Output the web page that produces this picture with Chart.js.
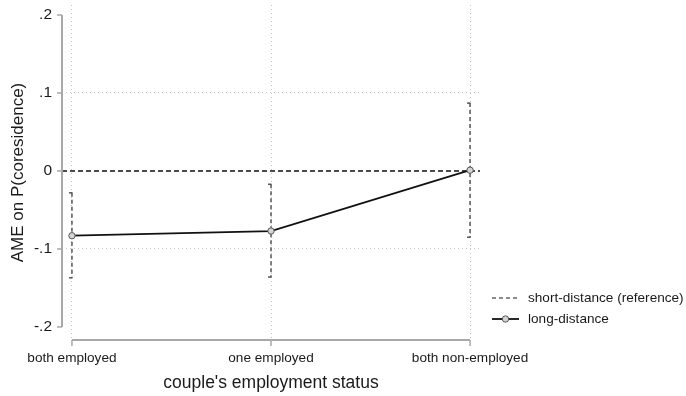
<!DOCTYPE html>
<html><head><meta charset="utf-8">
<script src="https://cdn.jsdelivr.net/npm/chart.js@4.4.1/dist/chart.umd.min.js"></script>
<style>html,body{margin:0;padding:0;background:#fff}#wrap{width:686px;height:396px}</style>
</head><body><div id="wrap"><canvas id="c" width="686" height="396"></canvas></div>
<script>
const categories = ['both employed', 'one employed', 'both non-employed'];
const longDistance = [-0.083, -0.077, 0.001];
const ciLow = [-0.137, -0.136, -0.085];
const ciHigh = [-0.028, -0.017, 0.087];
const referenceValue = 0;
const yTicks = [-0.2, -0.1, 0, 0.1, 0.2];
const seriesNames = ['short-distance (reference)', 'long-distance'];

const FONT = 'Liberation Sans, Arial, sans-serif';
const TXT = '#1a1a1a';

const fmt = v => {
  if (Math.abs(v) < 1e-9) return '0';
  const s = String(Math.round(v * 10) / 10);
  return s.replace('0.', '.');
};

const stataPlugin = {
  id: 'stata',
  beforeDatasetsDraw(chart) {
    const {ctx, chartArea: a, scales: {x, y}} = chart;
    ctx.save();
    const y0 = y.getPixelForValue(referenceValue);
    ctx.strokeStyle = '#111'; ctx.lineWidth = 1.3; ctx.setLineDash([5, 3]);
    ctx.beginPath(); ctx.moveTo(a.left, y0); ctx.lineTo(a.right, y0); ctx.stroke();
    ctx.strokeStyle = '#555'; ctx.lineWidth = 1.5; ctx.setLineDash([4, 3]);
    categories.forEach((c, i) => {
      const px = x.getPixelForValue(i);
      const t = y.getPixelForValue(ciHigh[i]), b = y.getPixelForValue(ciLow[i]);
      ctx.beginPath(); ctx.moveTo(px, t); ctx.lineTo(px, b); ctx.stroke();
    });
    ctx.setLineDash([]);
    categories.forEach((c, i) => {
      const px = x.getPixelForValue(i);
      const t = y.getPixelForValue(ciHigh[i]), b = y.getPixelForValue(ciLow[i]);
      ctx.beginPath(); ctx.moveTo(px - 3, t); ctx.lineTo(px + 0.5, t); ctx.stroke();
      ctx.beginPath(); ctx.moveTo(px - 3, b); ctx.lineTo(px + 0.5, b); ctx.stroke();
    });
    ctx.restore();
  },
  afterDraw(chart) {
    const {ctx, chartArea: a, scales: {x, y}} = chart;
    ctx.save();
    ctx.strokeStyle = '#a8a8a8'; ctx.lineWidth = 2; ctx.setLineDash([]);
    const yt = y.getPixelForValue(yTicks[yTicks.length - 1]);
    const yb = y.getPixelForValue(yTicks[0]);
    ctx.beginPath(); ctx.moveTo(a.left, yt); ctx.lineTo(a.left, yb); ctx.stroke();
    ctx.lineWidth = 1.5;
    yTicks.forEach(v => {
      const py = y.getPixelForValue(v);
      ctx.beginPath(); ctx.moveTo(a.left - 5, py); ctx.lineTo(a.left, py); ctx.stroke();
    });
    ctx.lineWidth = 2;
    const xl = x.getPixelForValue(0), xr = x.getPixelForValue(categories.length - 1);
    ctx.beginPath(); ctx.moveTo(xl, a.bottom); ctx.lineTo(xr, a.bottom); ctx.stroke();
    ctx.lineWidth = 1.5;
    categories.forEach((c, i) => {
      const px = x.getPixelForValue(i);
      ctx.beginPath(); ctx.moveTo(px, a.bottom); ctx.lineTo(px, a.bottom + 6); ctx.stroke();
    });
    const lx = 492, lx2 = 519, tx = 528, r1 = 298, r2 = 319;
    ctx.strokeStyle = '#666'; ctx.lineWidth = 1.5; ctx.setLineDash([4, 3]);
    ctx.beginPath(); ctx.moveTo(lx, r1); ctx.lineTo(lx2, r1); ctx.stroke();
    ctx.setLineDash([]);
    ctx.strokeStyle = '#111'; ctx.lineWidth = 1.8;
    ctx.beginPath(); ctx.moveTo(lx, r2); ctx.lineTo(lx2, r2); ctx.stroke();
    ctx.fillStyle = '#d4d4d4'; ctx.strokeStyle = '#555'; ctx.lineWidth = 1;
    ctx.beginPath(); ctx.arc((lx + lx2) / 2, r2, 3.2, 0, Math.PI * 2); ctx.fill(); ctx.stroke();
    ctx.fillStyle = TXT; ctx.font = '13.6px ' + FONT; ctx.textBaseline = 'middle'; ctx.textAlign = 'left';
    ctx.fillText(seriesNames[0], tx, r1);
    ctx.fillText(seriesNames[1], tx, r2);
    ctx.restore();
  }
};

new Chart(document.getElementById('c'), {
  type: 'line',
  data: {
    datasets: [{
      label: seriesNames[1],
      data: longDistance.map((v, i) => ({x: i, y: v})),
      borderColor: '#111',
      borderWidth: 1.8,
      pointRadius: 3.2,
      pointBorderWidth: 1,
      pointBorderColor: '#555',
      pointBackgroundColor: '#d4d4d4',
      tension: 0
    }]
  },
  options: {
    responsive: false,
    animation: false,
    devicePixelRatio: 1,
    layout: {padding: {left: 0, top: 5, right: 206, bottom: 0}},
    plugins: {legend: {display: false}, tooltip: {enabled: false}},
    scales: {
      x: {
        type: 'linear', min: -0.05, max: 2.05,
        afterBuildTicks: s => { s.ticks = categories.map((c, i) => ({value: i})); },
        afterFit: s => { s.height = 56; s.paddingLeft = 0; s.paddingRight = 0; },
        border: {display: false, dash: [1, 3]},
        grid: {color: '#c4c4c4', lineWidth: 1, drawTicks: false},
        ticks: {
          callback: v => categories[v], padding: 10, maxRotation: 0, autoSkip: false,
          color: TXT, font: {family: FONT, size: 13.6}
        },
        title: {display: true, text: "couple's employment status", color: TXT,
          font: {family: FONT, size: 17.5}, padding: {top: 4, bottom: 2}}
      },
      y: {
        min: -0.2167, max: 0.2128,
        afterBuildTicks: s => { s.ticks = yTicks.map(v => ({value: v})); },
        afterFit: s => { s.width = 62; s.paddingTop = 0; s.paddingBottom = 0; },
        border: {display: false, dash: [1, 3]},
        grid: {
          drawTicks: false,
          color: c => (c.tick && Math.abs(Math.abs(c.tick.value) - 0.1) < 1e-6) ? '#c4c4c4' : 'rgba(0,0,0,0)',
          lineWidth: 1
        },
        ticks: {callback: v => fmt(v), padding: 10, color: TXT, font: {family: FONT, size: 15.5}},
        title: {display: true, text: 'AME on P(coresidence)', color: TXT,
          font: {family: FONT, size: 17}, padding: {top: 8, bottom: 2}}
      }
    }
  },
  plugins: [stataPlugin]
});
</script>
</body></html>
